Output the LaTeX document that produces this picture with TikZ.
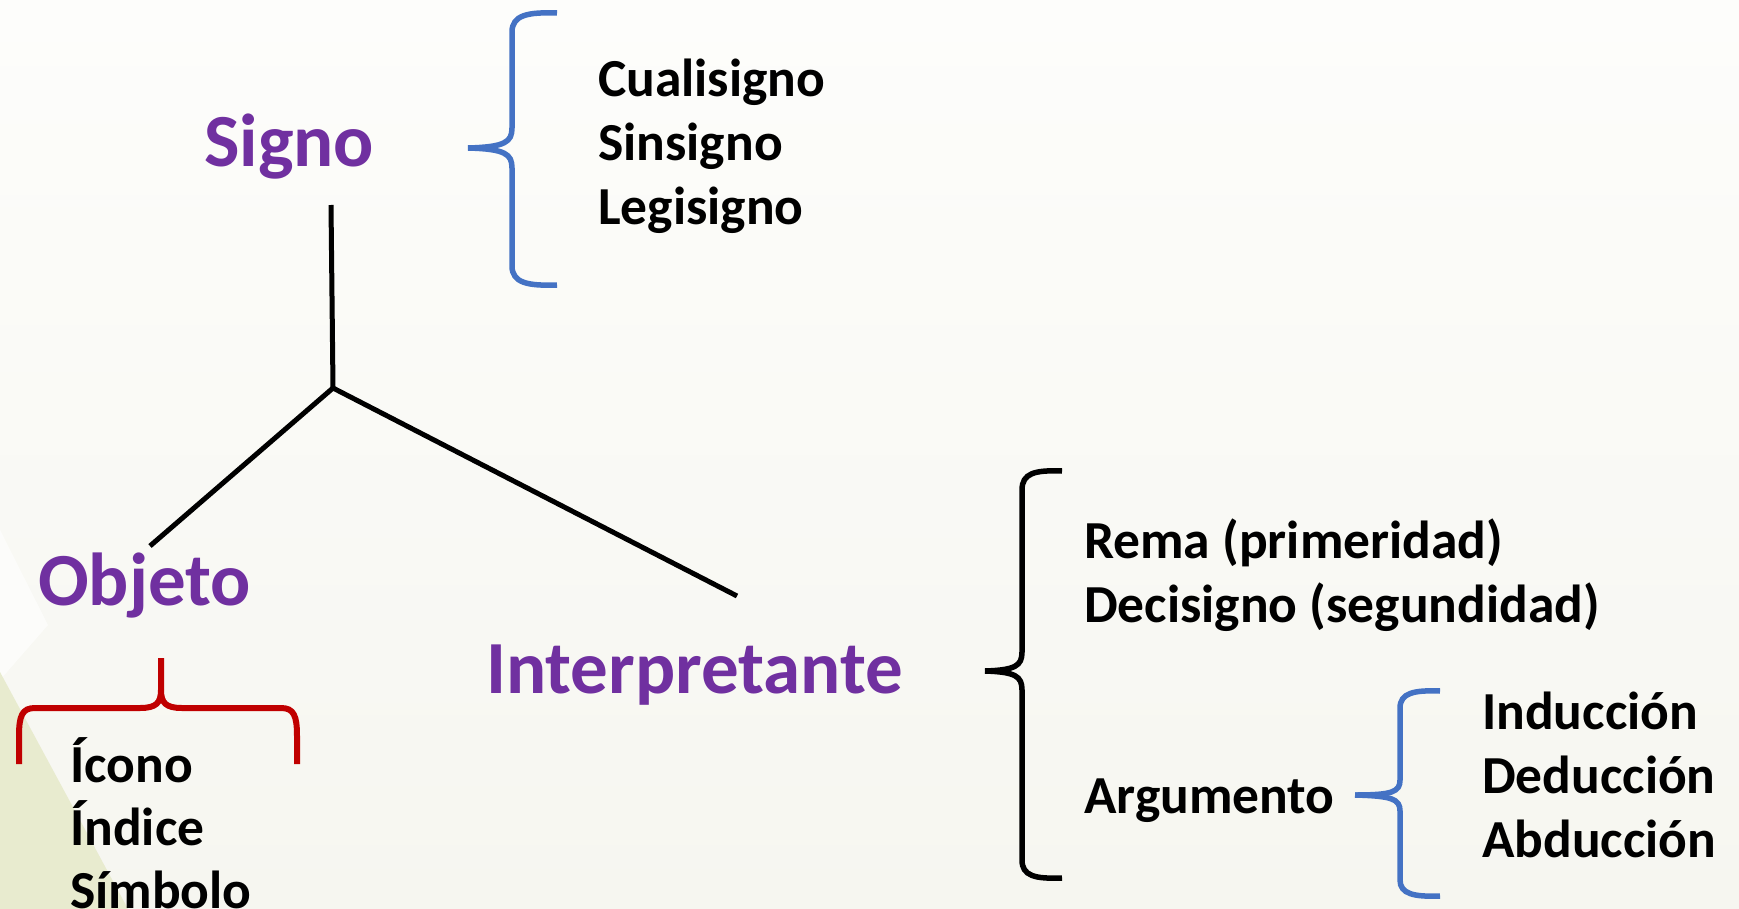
\documentclass[tikz,border=0pt]{standalone}
\usepackage{fontspec}
\setmainfont{Carlito}
\definecolor{purp}{HTML}{7030A0}
\definecolor{bracelblue}{HTML}{4472C4}
\definecolor{bracered}{HTML}{C00000}
\definecolor{bgtop}{HTML}{FDFDFB}
\definecolor{bgbot}{HTML}{F6F6F0}
\definecolor{bggreen}{HTML}{E8EBCF}
\tikzset{
  title/.style={text=purp, font=\fontsize{75}{90}\selectfont\bfseries, inner sep=0pt, anchor=base west},
  item/.style={text=black, font=\fontsize{53.5}{64}\selectfont\bfseries, inner sep=0pt, anchor=base west},
  treeline/.style={draw=black, line width=5pt},
  bluebrace/.style={draw=bracelblue, line width=5.5pt},
  redbrace/.style={draw=bracered, line width=6pt},
  blackbrace/.style={draw=black, line width=5.5pt}
}
\begin{document}
\begin{tikzpicture}[x=1pt,y=-1pt]
% background
\shade[top color=bgtop, bottom color=bgbot] (0,0) rectangle (1739,909);
\useasboundingbox (0,0) rectangle (1739,909);
\fill[white, opacity=0.6] (0,530) -- (48,625) -- (0,680) -- cycle;
\fill[bggreen] (0,672) -- (128,909) -- (0,909) -- cycle;

% titles
\node[title] (signo) at (204,167) {Signo};
\node[title] (objeto) at (38,605) {Objeto};
\node[title] (interp) at (486,693) {Interpretante};

% tree connectors
\coordinate (ttop) at (331,205);
\coordinate (junc) at (333,388);
\coordinate (lend) at (150,546);
\coordinate (rend) at (737,596);
\draw[treeline] (ttop) -- (junc);
\draw[treeline] (junc) -- (lend);
\draw[treeline] (junc) -- (rend);

% Signo brace and items
\draw[bluebrace] (557,13) .. controls (528,12) and (512,15) .. (512,32) -- (512,128) .. controls (512,142) and (505,147) .. (468,148);
\draw[bluebrace] (468,148) .. controls (505,149) and (512,154) .. (512,168) -- (512,266) .. controls (512,283) and (528,286) .. (557,285);
\node[item] (cuali) at (598,97) {Cualisigno};
\node[item] (sinsi) at (598,161) {Sinsigno};
\node[item] (legis) at (598,225) {Legisigno};

% Objeto brace and items
\draw[redbrace] (161,658) -- (161,690) .. controls (161,703) and (156,708) .. (140,708) -- (35,708) .. controls (22,708) and (19,716) .. (19,736) -- (19,764);
\draw[redbrace] (161,690) .. controls (161,703) and (166,708) .. (182,708) -- (281,708) .. controls (294,708) and (297,716) .. (297,736) -- (297,764);
\node[item] (icono) at (70,782) {Ícono};
\node[item] (indice) at (70,845) {Índice};
\node[item] (simbolo) at (70,908) {Símbolo};

% Interpretante brace and items
\draw[blackbrace] (1062,471) .. controls (1035,470) and (1022,473) .. (1022,490) -- (1022,652) .. controls (1022,666) and (1015,670) .. (985,671);
\draw[blackbrace] (985,671) .. controls (1015,672) and (1022,676) .. (1022,690) -- (1022,860) .. controls (1022,876) and (1035,879) .. (1062,878);
\node[item] (rema) at (1084,558) {Rema (primeridad)};
\node[item] (decis) at (1084,622) {Decisigno (segundidad)};
\node[item] (argum) at (1084,813) {Argumento};

% Argumento brace and items
\draw[bluebrace] (1440,691) .. controls (1414,690) and (1400,693) .. (1400,708) -- (1400,780) .. controls (1400,792) and (1392,795) .. (1355,795);
\draw[bluebrace] (1355,795) .. controls (1392,796) and (1400,799) .. (1400,811) -- (1400,880) .. controls (1400,894) and (1414,897) .. (1440,896);
\node[item] (induc) at (1482,729) {Inducción};
\node[item] (deduc) at (1482,793) {Deducción};
\node[item] (abduc) at (1482,857) {Abducción};
\end{tikzpicture}
\end{document}
